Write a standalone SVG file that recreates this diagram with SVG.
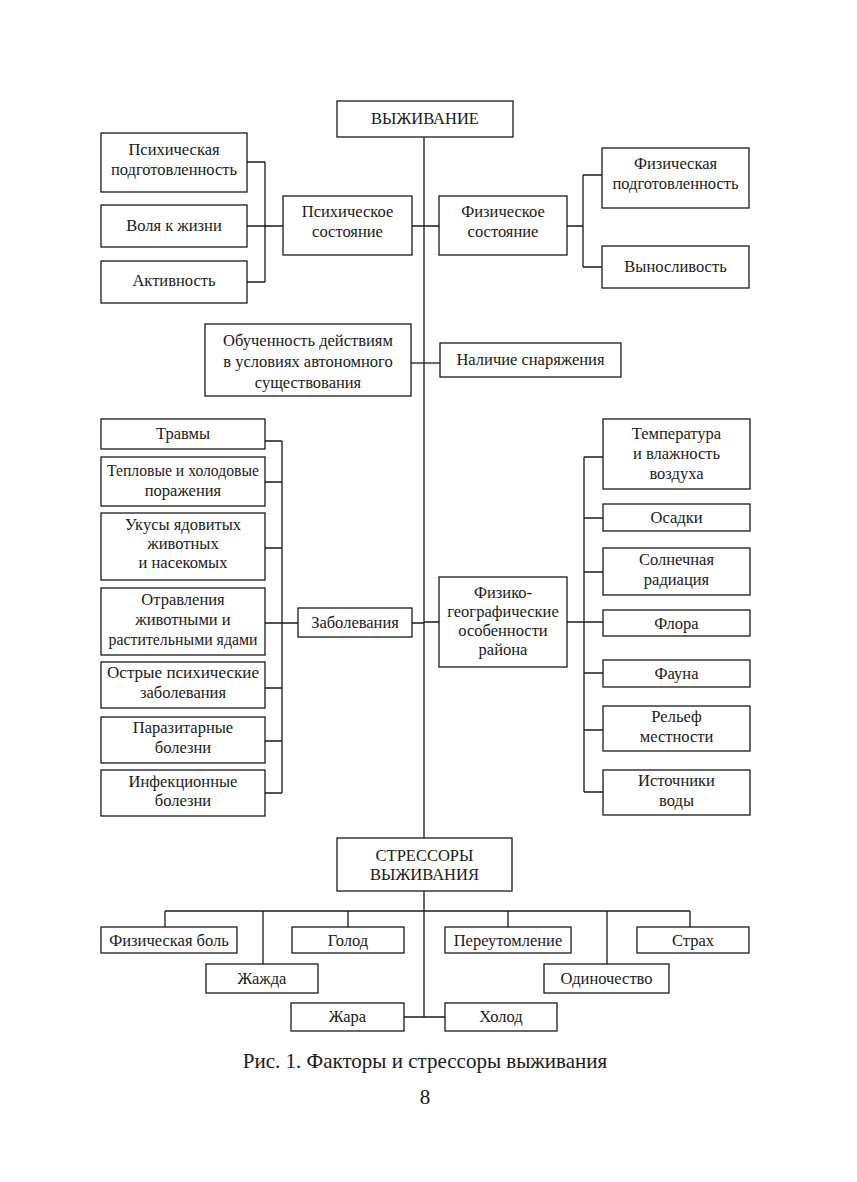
<svg xmlns="http://www.w3.org/2000/svg" width="857" height="1182" viewBox="0 0 857 1182">
<style>
rect.b{fill:#fff;stroke:#1a1a1a;stroke-width:1.3}
text{font-family:"Liberation Serif","Times New Roman",serif;font-size:16.5px;fill:#1a1a1a;text-anchor:middle}
#connectors path{fill:none;stroke:#1a1a1a;stroke-width:1.3}
</style>
<rect x="0" y="0" width="857" height="1182" fill="#fff"/>
<g id="connectors">
<path d="M424 137V838M424 891V1017"/>
<path d="M247 162H265M247 226H283M247 282H265M265 162V282M412 226H424"/>
<path d="M424 226H439M567 226H583M583 175V267M583 175H602M583 267H602"/>
<path d="M411 363H440"/>
<path d="M282 441V793M265 441H282M265 482H282M265 548H282M265 623H298M265 688H282M265 741H282M265 793H282M412 623H424"/>
<path d="M424 622H439M567 622H603M584 457V792M584 457H603M584 518H603M584 572H603M584 673H603M584 730H603M584 792H603"/>
<path d="M165 911H690M165 911V927M263 911V964M348 911V927M508 911V927M607 911V964M690 911V927M404 1017H445"/>
</g>
<g id="n-vyzhivanie"><rect class="b" x="337" y="101" width="176" height="36"/><text x="425" y="124">ВЫЖИВАНИЕ</text></g>
<g id="n-psih-podg"><rect class="b" x="101" y="133" width="146" height="59"/><text x="174" y="155">Психическая</text><text x="174" y="175">подготовленность</text></g>
<g id="n-volya"><rect class="b" x="101" y="205" width="146" height="42"/><text x="174" y="231">Воля к жизни</text></g>
<g id="n-aktivnost"><rect class="b" x="101" y="261" width="146" height="42"/><text x="174" y="286">Активность</text></g>
<g id="n-psih-sost"><rect class="b" x="283" y="196" width="129" height="59"/><text x="347.5" y="217">Психическое</text><text x="347.5" y="237">состояние</text></g>
<g id="n-fiz-sost"><rect class="b" x="439" y="196" width="128" height="59"/><text x="503" y="217">Физическое</text><text x="503" y="237">состояние</text></g>
<g id="n-fiz-podg"><rect class="b" x="602" y="148" width="147" height="60"/><text x="675.5" y="169">Физическая</text><text x="675.5" y="189">подготовленность</text></g>
<g id="n-vynoslivost"><rect class="b" x="602" y="246" width="147" height="42"/><text x="675.5" y="272">Выносливость</text></g>
<g id="n-obuchennost"><rect class="b" x="205" y="324" width="206" height="72"/><text x="308" y="346">Обученность действиям</text><text x="308" y="367">в условиях автономного</text><text x="308" y="388">существования</text></g>
<g id="n-nalichie"><rect class="b" x="440" y="343" width="181" height="34"/><text x="530.5" y="365">Наличие снаряжения</text></g>
<g id="n-travmy"><rect class="b" x="101" y="419" width="164" height="30"/><text x="183" y="439">Травмы</text></g>
<g id="n-teplovye"><rect class="b" x="101" y="457" width="164" height="49"/><text x="183" y="476" textLength="152" lengthAdjust="spacingAndGlyphs">Тепловые и холодовые</text><text x="183" y="496">поражения</text></g>
<g id="n-ukusy"><rect class="b" x="101" y="513" width="164" height="67"/><text x="183" y="530">Укусы ядовитых</text><text x="183" y="549">животных</text><text x="183" y="568">и насекомых</text></g>
<g id="n-otravleniya"><rect class="b" x="101" y="588" width="164" height="67"/><text x="183" y="605">Отравления</text><text x="183" y="625">животными и</text><text x="183" y="645" textLength="149" lengthAdjust="spacingAndGlyphs">растительными ядами</text></g>
<g id="n-ostrye"><rect class="b" x="101" y="662" width="164" height="46"/><text x="183" y="678" textLength="152" lengthAdjust="spacingAndGlyphs">Острые психические</text><text x="183" y="698">заболевания</text></g>
<g id="n-parazitarnye"><rect class="b" x="101" y="717" width="164" height="46"/><text x="183" y="733">Паразитарные</text><text x="183" y="753">болезни</text></g>
<g id="n-infekcionnye"><rect class="b" x="101" y="770" width="164" height="46"/><text x="183" y="787">Инфекционные</text><text x="183" y="806">болезни</text></g>
<g id="n-zabolevaniya"><rect class="b" x="298" y="608" width="114" height="29"/><text x="355" y="628">Заболевания</text></g>
<g id="n-fiz-geo"><rect class="b" x="439" y="577" width="128" height="90"/><text x="503" y="598">Физико-</text><text x="503" y="617">географические</text><text x="503" y="636">особенности</text><text x="503" y="655">района</text></g>
<g id="n-temperatura"><rect class="b" x="603" y="419" width="147" height="70"/><text x="676.5" y="439">Температура</text><text x="676.5" y="459">и влажность</text><text x="676.5" y="479">воздуха</text></g>
<g id="n-osadki"><rect class="b" x="603" y="504" width="147" height="27"/><text x="676.5" y="523">Осадки</text></g>
<g id="n-solnechnaya"><rect class="b" x="603" y="548" width="147" height="47"/><text x="676.5" y="565">Солнечная</text><text x="676.5" y="585">радиация</text></g>
<g id="n-flora"><rect class="b" x="603" y="610" width="147" height="26"/><text x="676.5" y="629">Флора</text></g>
<g id="n-fauna"><rect class="b" x="603" y="660" width="147" height="27"/><text x="676.5" y="679">Фауна</text></g>
<g id="n-relef"><rect class="b" x="603" y="706" width="147" height="45"/><text x="676.5" y="722">Рельеф</text><text x="676.5" y="742">местности</text></g>
<g id="n-istochniki"><rect class="b" x="603" y="770" width="147" height="45"/><text x="676.5" y="786">Источники</text><text x="676.5" y="806">воды</text></g>
<g id="n-stressory"><rect class="b" x="337" y="838" width="175" height="53"/><text x="424.5" y="861">СТРЕССОРЫ</text><text x="424.5" y="880">ВЫЖИВАНИЯ</text></g>
<g id="n-fiz-bol"><rect class="b" x="101" y="927" width="136" height="26"/><text x="169" y="946">Физическая боль</text></g>
<g id="n-golod"><rect class="b" x="292" y="927" width="112" height="26"/><text x="348" y="946">Голод</text></g>
<g id="n-pereutomlenie"><rect class="b" x="445" y="927" width="126" height="26"/><text x="508" y="946">Переутомление</text></g>
<g id="n-strah"><rect class="b" x="637" y="927" width="112" height="26"/><text x="693" y="946">Страх</text></g>
<g id="n-zhazhda"><rect class="b" x="206" y="964" width="112" height="29"/><text x="262" y="984">Жажда</text></g>
<g id="n-odinochestvo"><rect class="b" x="544" y="964" width="125" height="29"/><text x="606.5" y="984">Одиночество</text></g>
<g id="n-zhara"><rect class="b" x="291" y="1003" width="113" height="28"/><text x="347.5" y="1022">Жара</text></g>
<g id="n-holod"><rect class="b" x="445" y="1003" width="112" height="28"/><text x="501" y="1022">Холод</text></g>
<text x="425" y="1068" style="font-size:21px">Рис. 1. Факторы и стрессоры выживания</text>
<text x="425" y="1104" style="font-size:21px">8</text>
</svg>
